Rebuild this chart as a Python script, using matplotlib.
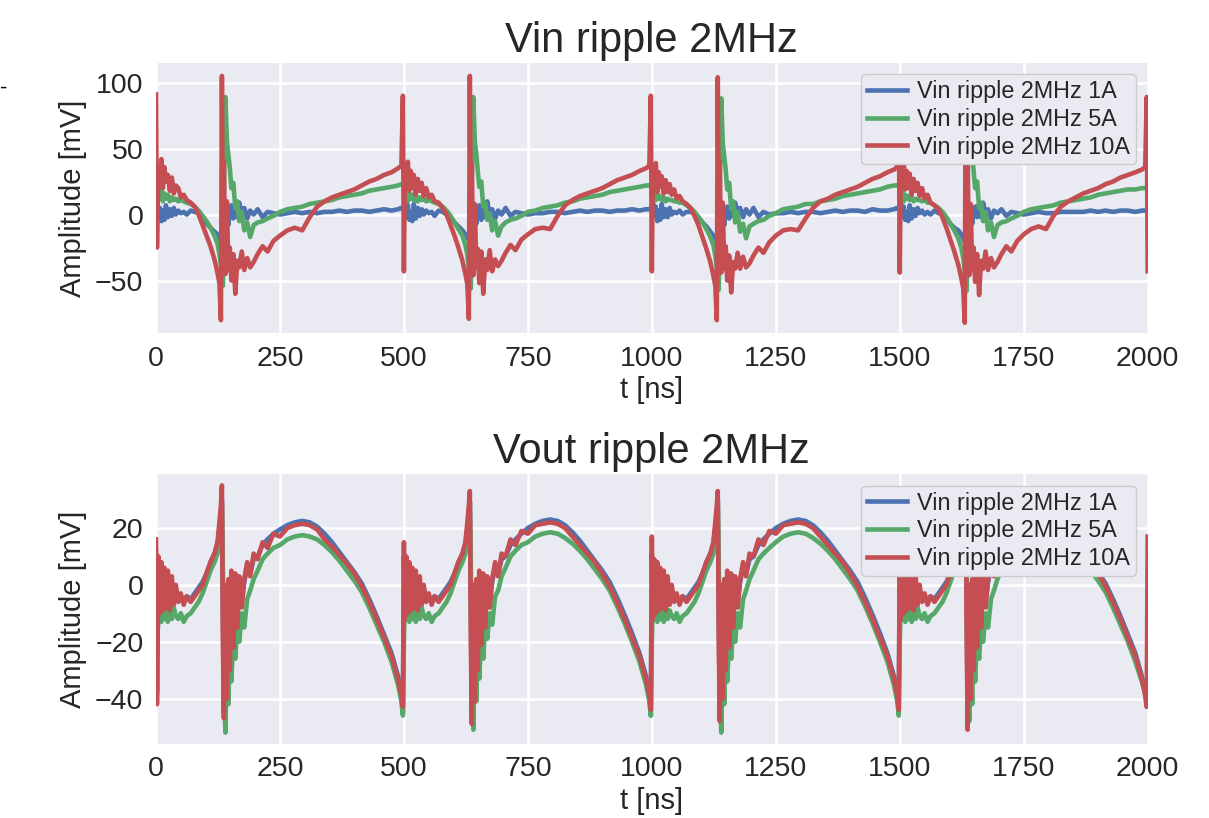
import numpy as np
import matplotlib
matplotlib.use("Agg")
import matplotlib.pyplot as plt

# ---------------- data ----------------
period_ns = 500
rel_t = [0, 2, 5, 8, 11, 14, 17, 20, 24, 28, 32, 36, 40, 45, 50, 56, 62,
         70, 78, 86, 94, 102, 110, 118, 124, 128, 131, 133, 135, 137, 140,
         143, 146, 149, 152, 156, 160, 164, 168, 173, 178, 184, 190, 197, 205,
         215, 225, 237, 250, 265, 280, 295, 310, 325, 340, 355, 370, 385, 400,
         415, 430, 445, 460, 475, 488, 495, 498]
t_end = 2000

# Top chart: Vin ripple [mV]
vin_1a = [
    1, 8, -3, 5, -5, 3, -4, 7, -2, 4, -1, 5, 0, 3, 1, 2, 0,
    3, 2, 1, -3, -7, -10, -13, -15, -17, -20, -12, -22, -5, -15,
    5, -8, 3, 7, -3, 8, -2, 9, 0, 5, -3, 3, 0, 4,
    -2, 2, 1, 0, 1, 2, 1, 2, 1, 2, 2, 3, 2, 3,
    3, 2, 3, 4, 3, 4, 5, 5,
    4, 10, -2, 7, -4, 2, -5, 8, -3, 5, -1, 4, 0, 3, 1, 2, -1,
    3, 2, 0, -3, -6, -9, -12, -15, -17, -19, -11, -21, -6, -14,
    6, -7, 2, 7, -4, 8, -2, 10, 0, 4, -3, 3, 0, 5,
    -1, 2, 1, 0, 1, 1, 2, 2, 1, 2, 3, 2, 3, 3,
    2, 3, 3, 4, 3, 4, 4, 5,
    5, 11, -1, 6, -5, 3, -4, 8, -2, 4, -2, 5, 0, 2, 1, 3, 0,
    2, 2, 1, -2, -6, -9, -13, -16, -18, -20, -13, -22, -4, -15,
    4, -8, 3, 6, -3, 7, -1, 9, 1, 5, -2, 4, 0, 5,
    -2, 2, 0, 1, 1, 2, 1, 2, 2, 1, 2, 3, 2, 3,
    3, 2, 4, 3, 3, 4, 5, 4,
    4, 9, -2, 6, -4, 2, -5, 7, -3, 4, -1, 5, 1, 3, 0, 2, 0,
    3, 1, 1, -3, -7, -10, -12, -15, -18, -21, -12, -23, -5, -16,
    5, -7, 4, 6, -2, 8, -2, 9, 0, 4, -3, 3, 1, 4,
    -1, 2, 1, 0, 1, 2, 1, 1, 2, 2, 2, 2, 3, 2,
    3, 2, 3, 3, 2, 3, 3, 3,
    2]
vin_5a = [
    14, 20, 24, 12, 18, 10, 16, 12, 15, 10, 13, 11, 12, 10, 11, 10, 9,
    8, 6, 3, -1, -5, -10, -16, -22, -30, -38, -46, -54, 20, 89,
    56, 45, 35, 20, 24, 5, 10, -5, 2, -12, -6, -17, -8, -6,
    -5, -3, -1, 2, 4, 5, 6, 8, 9, 10, 11, 13, 14, 15,
    16, 18, 19, 20, 21, 22, 23, 23,
    22, 14, 18, 10, 16, 12, 15, 11, 14, 10, 13, 11, 12, 10, 11, 10, 9,
    8, 6, 3, -1, -6, -11, -16, -23, -31, -40, -48, -56, 25, 89,
    55, 46, 33, 21, 25, 6, 9, -4, 1, -12, -5, -16, -9, -6,
    -4, -3, -1, 2, 3, 5, 6, 7, 9, 10, 12, 13, 14, 15,
    17, 18, 19, 20, 21, 22, 22, 23,
    23, 15, 19, 11, 16, 12, 14, 11, 13, 10, 12, 11, 11, 10, 10, 9, 9,
    7, 5, 2, -2, -6, -11, -17, -23, -31, -40, -48, -57, 22, 88,
    54, 44, 34, 19, 24, 4, 10, -6, 2, -13, -7, -18, -9, -7,
    -5, -4, -1, 1, 4, 5, 6, 8, 8, 10, 11, 12, 14, 15,
    16, 17, 18, 19, 21, 22, 22, 23,
    22, 14, 18, 10, 15, 12, 14, 11, 13, 10, 12, 11, 11, 10, 11, 9, 9,
    7, 5, 2, -2, -7, -12, -18, -25, -33, -42, -50, -58, 24, 88,
    55, 45, 33, 20, 25, 5, 9, -5, 2, -12, -6, -17, -8, -6,
    -5, -3, -1, 2, 4, 5, 6, 7, 9, 10, 11, 12, 13, 15,
    16, 17, 18, 19, 19, 20, 20, 20,
    20]
vin_10a = [
    91, -25, 35, 28, 42, 20, 36, 25, 30, 18, 28, 16, 22, 20, 13, 15, 11,
    9, 6, 0, -8, -16, -24, -34, -44, -52, -80, 105, -30, 40, -45,
    10, -42, -25, -50, -30, -60, -35, -40, -28, -42, -33, -40, -36, -30,
    -24, -28, -20, -16, -12, -10, -12, -2, 6, 10, 13, 15, 17, 19,
    22, 25, 27, 30, 32, 35, 37, 90,
    -43, 38, 22, 40, 18, 33, 20, 30, 15, 27, 18, 24, 14, 20, 13, 15, 10,
    9, 5, 0, -8, -16, -25, -35, -45, -53, -79, 105, -32, 38, -46,
    8, -40, -26, -52, -28, -60, -34, -42, -27, -43, -34, -39, -35, -29,
    -23, -27, -19, -15, -11, -10, -11, -1, 7, 11, 14, 16, 18, 20,
    23, 26, 28, 30, 33, 35, 37, 90,
    -43, 37, 23, 39, 17, 32, 21, 29, 16, 26, 17, 23, 15, 19, 12, 14, 10,
    8, 5, -1, -8, -17, -26, -36, -46, -54, -80, 104, -30, 40, -44,
    9, -41, -24, -50, -31, -59, -36, -41, -29, -41, -32, -40, -37, -31,
    -25, -29, -21, -16, -12, -11, -12, -3, 5, 10, 12, 15, 17, 19,
    21, 24, 27, 29, 32, 34, 36, 89,
    -44, 39, 22, 40, 19, 33, 20, 31, 15, 27, 18, 24, 14, 20, 12, 15, 9,
    7, 4, -2, -10, -19, -28, -38, -48, -56, -82, 104, -31, 39, -46,
    8, -42, -25, -51, -30, -61, -35, -41, -28, -42, -33, -40, -36, -30,
    -24, -28, -20, -15, -11, -9, -11, -1, 6, 10, 13, 16, 18, 20,
    23, 25, 28, 30, 32, 34, 36, 89,
    -43]

# Bottom chart: Vout ripple [mV]
vout_1a = [
    12, -38, 5, -7, 3, -8, 2, -6, 1, -7, 0, -6, -2, -5, -4, -6, -4,
    -5, -3, -1, 1, 4, 8, 11, 14, 20, 25, 30, -10, -45, 0,
    -35, 0, -25, 3, -18, 2, -12, 2, -6, 1, 6, 4, 9, 10,
    14, 16, 18, 19.5, 21, 22, 22.5, 22, 20.5, 18, 15, 11.5, 8, 4.5,
    0.5, -5, -11, -17.5, -24, -32, -39, -45,
    10, -8, 5, -7, 3, -8, 2, -6, 1, -7, 0, -6, -2, -5, -4, -6, -4,
    -5, -3, -1, 1, 4, 8, 11, 14, 20, 25, 29, -10, -46, 0,
    -36, 0, -24, 3, -18, 2, -12, 2, -6, 1, 6, 4, 9, 10,
    14, 16, 18, 20, 21.5, 22.5, 23, 22.5, 21, 18.5, 15.5, 12, 8.5, 5,
    1, -4.5, -10.5, -17, -24, -32, -39, -46,
    11, -8, 6, -7, 3, -8, 2, -6, 1, -7, 0, -6, -2, -5, -4, -6, -4,
    -5, -3, -1, 1, 4, 8, 11, 14, 20, 25, 30, -10, -45, 0,
    -35, 0, -25, 3, -18, 2, -12, 2, -6, 1, 6, 4, 9, 10,
    14, 16, 18, 20, 21.5, 22.5, 23, 22.5, 21, 18.5, 15.5, 12, 8.5, 5,
    1, -4.5, -10.5, -17, -24, -32, -39, -45,
    10, -8, 5, -7, 3, -8, 2, -6, 1, -7, 0, -6, -2, -5, -4, -6, -4,
    -5, -3, -1, 1, 4, 8, 11, 14, 20, 25, 30, -10, -46, 0,
    -36, 0, -25, 3, -18, 2, -12, 2, -6, 1, 6, 4, 9, 10,
    14, 16, 18, 19.5, 21, 22, 22.5, 22, 20.5, 18, 15, 11.5, 8, 4.5,
    0.5, -5, -11, -17.5, -24, -32, -38, -42,
    -42]
vout_5a = [
    -5, -20, -12, -3, -13, -5, -12, -6, -13, -7, -12, -8, -11, -12, -10, -13, -11,
    -10, -8, -6, -3, 1, 5, 8, 11, 16, 20, 28, 5, -30, -52,
    -25, -42, -20, -34, -18, -26, -14, -20, -10, -15, -5, -2, 2, 5,
    9, 11, 13, 14, 16, 17, 17.5, 17, 16, 14, 11.5, 8.5, 5, 1.5,
    -2.5, -8, -14, -20, -27, -35, -41, -46,
    -20, -5, -12, -3, -13, -5, -12, -6, -13, -7, -12, -8, -11, -12, -10, -13, -11,
    -10, -8, -6, -3, 1, 5, 8, 11, 16, 21, 29, 6, -30, -51,
    -24, -41, -20, -33, -17, -26, -13, -19, -10, -14, -4, -2, 3, 6,
    10, 12, 14, 15, 17, 18, 18.5, 18, 16.5, 14.5, 12, 9, 5.5, 2,
    -2, -7.5, -13.5, -20, -27, -35, -41, -46,
    -20, -6, -12, -4, -13, -6, -12, -7, -13, -7, -12, -9, -11, -12, -10, -13, -11,
    -10, -8, -6, -3, 1, 5, 8, 11, 16, 21, 29, 6, -30, -52,
    -25, -42, -20, -34, -18, -26, -14, -20, -10, -15, -5, -2, 2, 5,
    9, 11, 13, 15, 17, 18, 18.5, 18, 16.5, 14.5, 12, 9, 5.5, 2,
    -2, -7.5, -13.5, -20, -27, -35, -41, -46,
    -20, -5, -12, -3, -13, -5, -12, -6, -13, -7, -12, -8, -11, -12, -10, -13, -11,
    -10, -8, -6, -3, 1, 5, 8, 11, 16, 20, 28, 5, -30, -48,
    -25, -42, -20, -34, -18, -26, -14, -20, -10, -15, -5, -2, 2, 5,
    9, 11, 13, 14, 16, 17, 17.5, 17, 16, 14, 11.5, 8.5, 5, 1.5,
    -2.5, -8, -14, -20, -27, -34, -38, -40,
    -40]
vout_10a = [
    16, -42, 10, -10, 8, -9, 6, -8, 5, -9, 3, -7, 0, -6, -3, -7, -4,
    -6, -4, -2, 0, 4, 8, 11, 15, 22, 28, 35, -20, -47, 0,
    -40, 2, -30, 5, -22, 4, -15, 3, -8, 2, 8, 3, 11, 9,
    15, 13, 18, 17, 20, 21, 21.5, 21, 19.5, 16, 13.5, 10.5, 7.5, 4,
    -0.5, -6, -12, -18.5, -25, -33, -39, -43,
    15, -12, 10, -10, 8, -9, 6, -8, 5, -9, 3, -7, 0, -6, -3, -7, -4,
    -6, -4, -2, 0, 4, 8, 11, 15, 22, 28, 33, -20, -49, 0,
    -41, 2, -30, 5, -21, 4, -15, 3, -8, 2, 8, 3, 11, 10,
    16, 14, 19, 18, 21, 21.5, 22, 21.5, 20, 17, 14, 11, 8, 4,
    -0.5, -6, -12, -18.5, -25, -33, -39, -44,
    17, -12, 9, -10, 8, -9, 6, -8, 5, -9, 3, -7, 0, -6, -3, -7, -4,
    -6, -4, -2, 0, 4, 8, 11, 15, 22, 28, 33, -20, -48, 0,
    -40, 2, -30, 5, -22, 4, -15, 3, -8, 2, 8, 3, 11, 10,
    16, 14, 19, 18, 21, 21.5, 22, 21.5, 20, 17, 14, 11, 8, 4,
    -0.5, -6, -12, -18.5, -25, -33, -39, -44,
    16, -12, 10, -10, 8, -9, 6, -8, 5, -9, 3, -7, 0, -6, -3, -7, -4,
    -6, -4, -2, 0, 4, 8, 11, 15, 22, 28, 34, -20, -51, 0,
    -40, 2, -30, 5, -22, 4, -15, 3, -8, 2, 8, 3, 11, 9,
    15, 13, 18, 17, 20, 21, 21.5, 21, 19.5, 16, 13.5, 10.5, 7.5, 4,
    -0.5, -6, -12, -18.5, -25, -33, -39, -43,
    17]

labels = ["Vin ripple 2MHz 1A", "Vin ripple 2MHz 5A", "Vin ripple 2MHz 10A"]
titles = ["Vin ripple 2MHz", "Vout ripple 2MHz"]
xticks = [0, 250, 500, 750, 1000, 1250, 1500, 1750, 2000]

# time base: four switching periods
t = np.array([p * period_ns + r for p in range(4) for r in rel_t] + [t_end], dtype=float)
for s in (vin_1a, vin_5a, vin_10a, vout_1a, vout_5a, vout_10a):
    assert len(s) == len(t), (len(s), len(t))

# ---------------- style ----------------
colors = ["#4C72B0", "#55A868", "#C44E52"]
text_c = "#262626"
plt.rcParams.update({
    "font.family": ["Liberation Sans", "DejaVu Sans"],
    "axes.facecolor": "#EAEAF2",
    "axes.edgecolor": "white",
    "text.color": text_c,
    "axes.labelcolor": text_c,
    "xtick.color": text_c,
    "ytick.color": text_c,
})

fig = plt.figure(figsize=(12.09, 8.18), dpi=100)
ax1 = fig.add_axes([0.129, 0.5925, 0.8203, 0.3308])
ax2 = fig.add_axes([0.129, 0.0905, 0.8203, 0.3300])

def style(ax, title, ylim, yticks):
    ax.set_xlim(0, 2000)
    ax.set_ylim(*ylim)
    ax.set_xticks(xticks)
    ax.set_yticks(yticks)
    ax.grid(True, color="white", linewidth=1.8)
    ax.set_axisbelow(True)
    for sp in ax.spines.values():
        sp.set_visible(False)
    ax.tick_params(length=0, labelsize=20.5, pad=9)
    ax.set_title(title, fontsize=30, pad=8)
    ax.set_xlabel("t [ns]", fontsize=21, labelpad=3)
    ax.set_ylabel("Amplitude [mV]", fontsize=21, labelpad=6)
    leg = ax.legend(loc="upper right", fontsize=16.8, frameon=True,
                    facecolor="#EAEAF2", edgecolor="#CCCCCC", framealpha=1,
                    borderpad=0.25, labelspacing=0.2, handlelength=1.7,
                    handletextpad=0.45, borderaxespad=0.5)
    leg.get_frame().set_linewidth(1.0)

for ser, c, lab in zip((vin_1a, vin_5a, vin_10a), colors, labels):
    ax1.plot(t, ser, color=c, lw=3.3, label=lab, solid_joinstyle="round")
style(ax1, titles[0], (-90, 115), [-50, 0, 50, 100])

for ser, c, lab in zip((vout_1a, vout_5a, vout_10a), colors, labels):
    ax2.plot(t, ser, color=c, lw=3.3, label=lab, solid_joinstyle="round")
style(ax2, titles[1], (-56, 39), [-40, -20, 0, 20])

fig.text(0.0, 1 - 88 / 818, "-", fontsize=16, color="black", ha="left", va="center")

fig.savefig("out.png", dpi=100)
